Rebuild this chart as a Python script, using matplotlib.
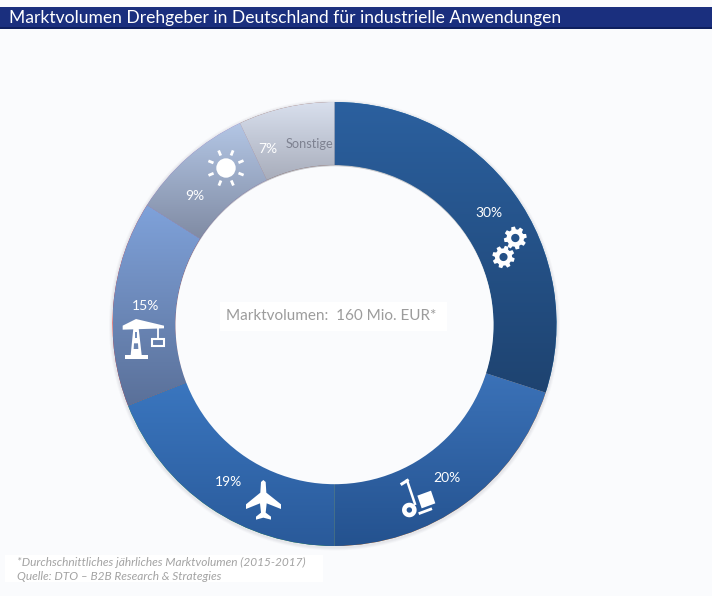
import numpy as np
import matplotlib
matplotlib.use("Agg")
import matplotlib.pyplot as plt
from matplotlib.colors import LinearSegmentedColormap
from matplotlib.patches import Circle, PathPatch, Polygon, Rectangle
from matplotlib.path import Path

plt.rcParams['font.family'] = ['Lato', 'DejaVu Sans']

TITLE = "Marktvolumen Drehgeber in Deutschland für industrielle Anwendungen"
CENTER_TEXT = "Marktvolumen:  160 Mio. EUR*"
NOTE_1 = "*Durchschnittliches jährliches Marktvolumen (2015-2017)"
NOTE_2 = "Quelle: DTO – B2B Research & Strategies"
segments = ["Maschinenbau", "Logistik", "Luftfahrt", "Bau", "Energie", "Sonstige"]
shares = [30, 20, 19, 15, 9, 7]
top_colors = ["#2B609F", "#3B72B8", "#3A76BF", "#7FA2DA", "#B3C6E5", "#D9E0EE"]
bottom_colors = ["#1E4370", "#24528F", "#2A5A9A", "#5A7099", "#808BA3", "#A8ADBB"]

W, H = 712, 596
BG = "#FAFBFD"
fig = plt.figure(figsize=(W / 100, H / 100), dpi=100, facecolor=BG)
ax = fig.add_axes([0, 0, 1, 1])


def Y(y):
    return H - y


CX, CY, R_OUT, R_IN = 334.5, Y(324), 222, 159

# soft shadow round the ring
for grow, a in ((3.5, 0.03), (2.5, 0.04), (1.5, 0.05)):
    ax.add_patch(Circle((CX, CY - 1), R_OUT + grow, fc="#555566", alpha=a, lw=0, zorder=0))

wedges, _ = ax.pie(shares, startangle=90, counterclock=False, radius=R_OUT, center=(CX, CY),
                   wedgeprops=dict(width=R_OUT - R_IN, lw=0), frame=True)

for w, c0, c1 in zip(wedges, top_colors, bottom_colors):
    w.set_zorder(1)
    a = np.radians(np.linspace(w.theta1, w.theta2, 100))
    ys = np.r_[CY + R_OUT * np.sin(a), CY + R_IN * np.sin(a)]
    cmap = LinearSegmentedColormap.from_list("g", [c0, c1])
    grad = np.linspace(0, 1, 256).reshape(-1, 1)
    im = ax.imshow(grad, cmap=cmap, aspect="auto", origin="upper", zorder=2,
                   extent=(CX - R_OUT, CX + R_OUT, ys.min(), ys.max()))
    im.set_clip_path(w)

# hole: inner shadow and fill
ax.add_patch(Circle((CX, CY), R_IN + 0.2, fc="#60606a", alpha=0.25, lw=0, zorder=3))
ax.add_patch(Circle((CX, CY - 1.2), R_IN, fc=BG, lw=0, zorder=3))

ax.set_xlim(0, W)
ax.set_ylim(0, H)
ax.set_aspect("auto")
ax.axis("off")

# title bar
ax.add_patch(Rectangle((0, Y(28.5)), W, 21.5, fc="#1A2F7E", lw=0, zorder=5))
ax.add_patch(Rectangle((0, Y(28.5)), W, 1.2, fc="#0E1F5E", lw=0, zorder=6))
ax.text(9, Y(18), TITLE, color="white", fontsize=12.6, va="center", ha="left", zorder=7)

# text boxes
ax.add_patch(Rectangle((220, Y(331)), 227, 29, fc="white", lw=0, zorder=5))
ax.text(331.5, Y(316), CENTER_TEXT, color="#9C9C9C", fontsize=11, ha="center", va="center", zorder=6)
ax.add_patch(Rectangle((5, Y(582)), 318, 27, fc="white", lw=0, zorder=5))
ax.text(17, Y(562), NOTE_1, color="#A3A3A3", fontsize=8.6, style="italic", va="center", zorder=6)
ax.text(17, Y(576.5), NOTE_2, color="#A3A3A3", fontsize=8.6, style="italic", va="center", zorder=6)

# labels
label_xy = [(489, 213), (447, 478), (228, 482), (146, 306), (195, 196), (268, 149)]
for v, (x, y) in zip(shares, label_xy):
    ax.text(x, Y(y), f"{v}%", color="white", fontsize=10, ha="center", va="center", zorder=8)
ax.text(309, Y(143.5), segments[-1], color="#7E8291", fontsize=9.2, ha="center", va="center", zorder=8)


# icons
def white_poly(pts, **kw):
    ax.add_patch(Polygon([(x, Y(y)) for x, y in pts], closed=True, fc="white", ec="none", zorder=8, **kw))


def white_line(pts, lw):
    ax.plot([p[0] for p in pts], [Y(p[1]) for p in pts], color="white", lw=lw,
            solid_capstyle="butt", zorder=8)


def ring_path(outer_xy, cx, cy, r):
    t = np.linspace(0, 2 * np.pi, 40)[::-1]
    hole = np.c_[cx + r * np.cos(t), cy + r * np.sin(t)]
    verts = np.r_[outer_xy, outer_xy[:1], hole, hole[:1]]
    codes = ([Path.MOVETO] + [Path.LINETO] * (len(outer_xy) - 1) + [Path.CLOSEPOLY]
             + [Path.MOVETO] + [Path.LINETO] * (len(hole) - 1) + [Path.CLOSEPOLY])
    return Path(verts, codes)


def gear(cx, cy, r, rot):
    cy = Y(cy)
    n = 8
    pts = []
    for i in range(n):
        c = rot + i * 2 * np.pi / n
        for da, rr in ((-0.27, r * 0.76), (-0.16, r), (0.16, r), (0.27, r * 0.76)):
            pts.append((cx + rr * np.cos(c + da), cy + rr * np.sin(c + da)))
    ax.add_patch(PathPatch(ring_path(np.array(pts), cx, cy, r * 0.36), fc="white", lw=0, zorder=8))


gear(515.3, 238, 11.5, 0.2)
gear(503.5, 257, 11.3, 0.5)

# sun
sx, sy = 226, 168
ax.add_patch(Circle((sx, Y(sy)), 9.7, fc="white", lw=0, zorder=8))
for k in range(8):
    ang = np.radians(22 + 45 * k)
    white_line([(sx + 13.5 * np.cos(ang), sy + 13.5 * np.sin(ang)),
                (sx + 19 * np.cos(ang), sy + 19 * np.sin(ang))], 2.0)

# crane
cr = lambda x, y: (110 + x / 3, 95 + y / 3)
white_poly([cr(70, 700), cr(86, 700), cr(95, 780), cr(62, 780)])
white_poly([cr(45, 780), cr(113, 780), cr(113, 791), cr(45, 791)])
white_poly([cr(38, 692), cr(78, 672), cr(162, 692), cr(162, 700), cr(38, 704)])
ax.add_patch(Polygon([cr(74, 712), cr(82, 712), cr(82, 730), cr(74, 730)], closed=True, fc="#6F8CBB", lw=0, zorder=9,
                     transform=ax.transData + matplotlib.transforms.Affine2D().scale(1, -1).translate(0, H)))
ax.add_patch(Polygon([cr(72, 745), cr(84, 745), cr(85, 762), cr(71, 762)], closed=True, fc="#6A84B0", lw=0, zorder=9,
                     transform=ax.transData + matplotlib.transforms.Affine2D().scale(1, -1).translate(0, H)))
white_line([cr(143, 700), cr(143, 730)], 1.3)
bx0, by0 = cr(126, 731)
bx1, by1 = cr(162, 752)
ax.add_patch(Rectangle((bx0, Y(by1)), bx1 - bx0, by1 - by0, fc="none", ec="white", lw=1.5, zorder=8))

# trolley
tr = lambda x, y: (330 + x / 3, 180 + y / 3)
wx, wy = tr(238, 990)
t = np.linspace(0, 2 * np.pi, 40)
outer = np.c_[wx + 7.3 * np.cos(t[:-1]), Y(wy) + 7.3 * np.sin(t[:-1])]
ax.add_patch(PathPatch(ring_path(outer, wx, Y(wy), 2.7), fc="white", lw=0, zorder=8))
white_line([tr(230, 898), tr(256, 975)], 1.8)
white_line([tr(212, 914), tr(236, 899)], 2.2)
white_poly([tr(262, 947), tr(303, 932), tr(316, 970), tr(275, 985)])
white_line([tr(266, 1001), tr(306, 986)], 2.0)

# plane
pl = lambda x, y: (x / 3, 470 + y / 3)
white_poly([pl(790, 30), pl(797, 36), pl(799, 68), pl(843, 103), pl(843, 117), pl(800, 100), pl(797, 128),
            pl(813, 140), pl(813, 149), pl(790, 143), pl(768, 149), pl(768, 140), pl(783, 128), pl(780, 100),
            pl(738, 117), pl(738, 103), pl(781, 68), pl(783, 36)])

fig.savefig("out.png", dpi=100, facecolor=BG)
